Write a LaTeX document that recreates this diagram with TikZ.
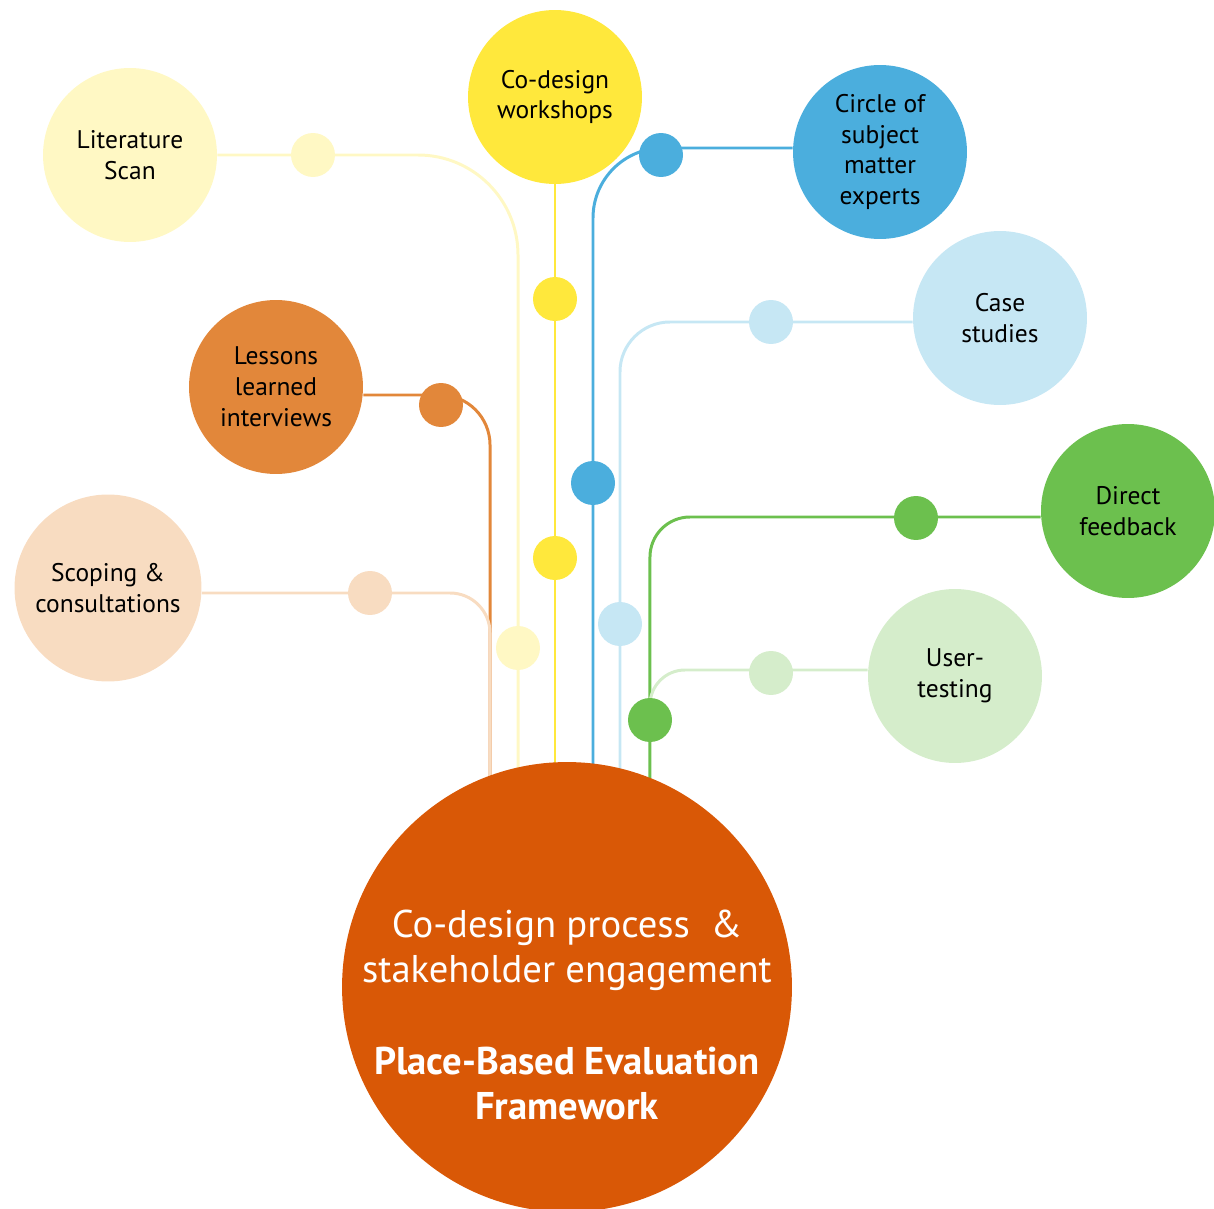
\documentclass[tikz,border=0pt]{standalone}
\usepackage{fontspec}
\setmainfont{PT Sans}
\usetikzlibrary{backgrounds}
\definecolor{litcol}{HTML}{FFF8C4}
\definecolor{wscol}{HTML}{FFE83C}
\definecolor{smecol}{HTML}{4BAEDD}
\definecolor{casecol}{HTML}{C6E7F4}
\definecolor{lescol}{HTML}{E2873A}
\definecolor{fbcol}{HTML}{6CC04E}
\definecolor{scopecol}{HTML}{F8DCC1}
\definecolor{usercol}{HTML}{D5EDCB}
\definecolor{corecol}{HTML}{D95806}

\begin{document}
\begin{tikzpicture}[x=0.02cm,y=-0.02cm,
  bubble/.style={circle,minimum size=3.48cm,inner sep=0pt,align=center,
    font=\fontsize{14.5}{17.6}\selectfont},
  knob/.style={circle,minimum size=0.88cm,inner sep=0pt},
  link/.style={line width=1.7pt}]
  \useasboundingbox (0,0) rectangle (1214,1209);
  % outer bubbles
  \node[bubble,fill=litcol] (lit) at (130,155) {Literature\\Scan};
  \node[bubble,fill=wscol] (ws) at (555,97) {Co-design\\workshops};
  \node[bubble,fill=smecol] (sme) at (880,152) {Circle of\\subject\\matter\\experts};
  \node[bubble,fill=casecol] (case) at (1000,318) {Case\\studies};
  \node[bubble,fill=lescol] (lessons) at (276,387) {Lessons\\learned\\interviews};
  \node[bubble,fill=fbcol] (feedback) at (1128,511) {Direct\\feedback};
  \node[bubble,fill=scopecol,minimum size=3.74cm] (scoping) at (108,588) {Scoping \&\\consultations};
  \node[bubble,fill=usercol] (usertest) at (955,676) {User-\\testing};
  % centre
  \node[circle,fill=corecol,minimum size=9cm] (core) at (567,987) {};
  \node[text=white,align=center,font=\fontsize{22}{26}\selectfont] (coretext) at (567,1015)
    {Co-design process \ \&\\stakeholder engagement\\[26pt]\textbf{Place-Based Evaluation}\\\textbf{Framework}};
  % dots
  \node[knob,fill=litcol] (lit1) at (313,155) {};
  \node[knob,fill=litcol] (lit2) at (518,648) {};
  \node[knob,fill=wscol] (ws1) at (555,299) {};
  \node[knob,fill=wscol] (ws2) at (555,558) {};
  \node[knob,fill=smecol] (sme1) at (661,155) {};
  \node[knob,fill=smecol] (sme2) at (593,483) {};
  \node[knob,fill=casecol] (case1) at (771,322) {};
  \node[knob,fill=casecol] (case2) at (620,624) {};
  \node[knob,fill=lescol] (les1) at (441,405) {};
  \node[knob,fill=scopecol] (scope1) at (370,593) {};
  \node[knob,fill=fbcol] (fb1) at (916,518) {};
  \node[knob,fill=fbcol] (fb2) at (650,720) {};
  \node[knob,fill=usercol] (user1) at (771,673) {};
  % branches
  \begin{scope}[on background layer]
    \draw[link,litcol,rounded corners=2cm] (lit.east) -| ([xshift=-0.98cm]core.center);
    \draw[link,wscol] (ws) -- (ws |- core.center);
    \draw[link,smecol,rounded corners=1.4cm] ([yshift=0.08cm]sme.west) -| ([xshift=0.52cm]core.center);
    \draw[link,casecol,rounded corners=1cm] ([yshift=-0.08cm]case.west) -| ([xshift=1.06cm]core.center);
    \draw[link,lescol,rounded corners=1cm] ([yshift=-0.16cm]lessons.east) -| ([xshift=-1.54cm]core.center);
    \draw[link,scopecol,rounded corners=0.8cm] ([yshift=-0.1cm]scoping.east) -| ([xshift=-1.54cm]core.center);
    \draw[link,fbcol,rounded corners=0.8cm] ([yshift=-0.12cm]feedback.west) -| ([xshift=1.66cm]core.center);
    \draw[link,usercol,rounded corners=0.7cm] ([yshift=0.12cm]usertest.west) -| (fb2);
  \end{scope}
\end{tikzpicture}
\end{document}
